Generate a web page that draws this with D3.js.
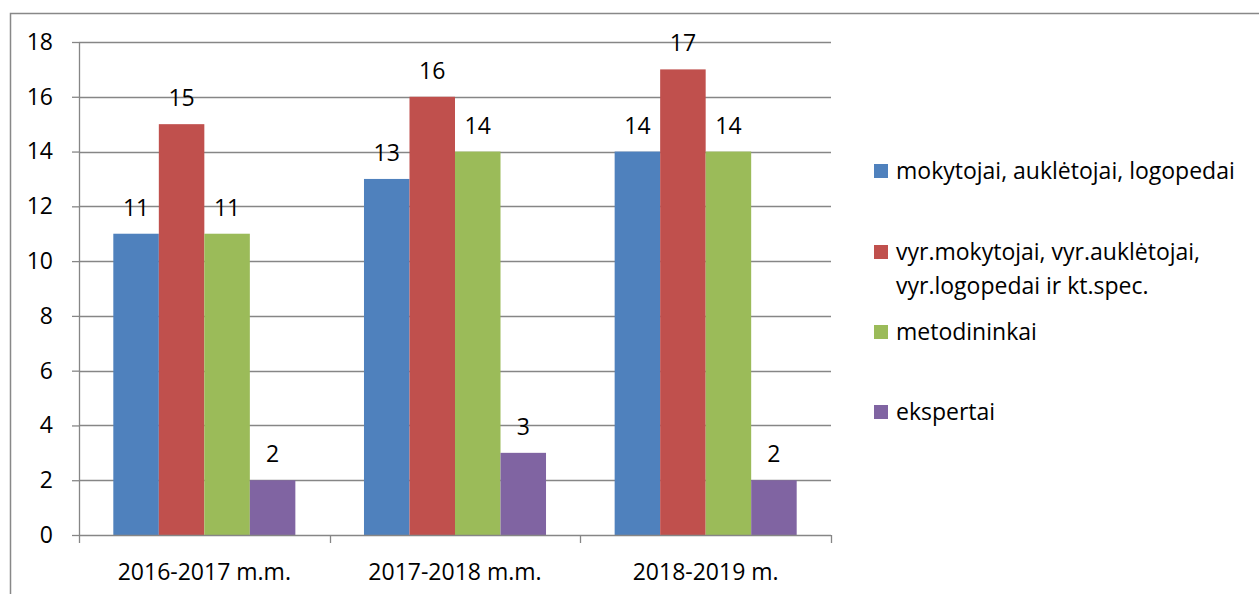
<!DOCTYPE html>
<html>
<head>
<meta charset="utf-8">
<script src="https://cdn.jsdelivr.net/npm/d3@7"></script>
<style>
  body { margin: 0; background: #fff; }
  text { font-family: "Open Sans", Lato, sans-serif; fill: #000; }
</style>
</head>
<body>
<div class="canvas"></div>
<script>
// Data
const categories = ['2016-2017 m.m.', '2017-2018 m.m.', '2018-2019 m.']
const seriesNames = [
    'mokytojai, auklėtojai, logopedai',
    'vyr.mokytojai, vyr.auklėtojai, vyr.logopedai ir kt.spec.',
    'metodininkai',
    'ekspertai'
]
const mokytojai = [11, 13, 14]
const vyrMokytojai = [15, 16, 17]
const metodininkai = [11, 14, 14]
const ekspertai = [2, 3, 2]
const yTicks = [0, 2, 4, 6, 8, 10, 12, 14, 16, 18]

const seriesValues = [mokytojai, vyrMokytojai, metodininkai, ekspertai]
const colors = ['#4F81BD', '#C0504D', '#9BBB59', '#8064A2']

const wWidth = 1259
const wHeight = 594
const fontSize = '23px'

const svg = d3.select('.canvas')
    .append('svg')
    .attr('width', wWidth)
    .attr('height', wHeight)

// outer frame
svg.append('rect')
    .attr('x', 10.5).attr('y', 13.5)
    .attr('width', 1270).attr('height', 620)
    .attr('fill', 'none')
    .attr('stroke', '#888')
    .attr('stroke-width', 1.5)

const margin = {top: 42, left: 79}
const graphWidth = 752
const graphHeight = 493

const graph = svg.append('g')
    .attr('transform', `translate(${margin.left}, ${margin.top})`)

const yScale = d3.scaleLinear()
    .domain([0, 18])
    .range([graphHeight, 0])

const xScale = d3.scaleBand()
    .domain(categories)
    .range([0, graphWidth])

const innerScale = d3.scaleBand()
    .domain(d3.range(seriesNames.length))
    .range([0, xScale.bandwidth()])
    .paddingInner(0)
    .paddingOuter(0.754)

// gridlines
graph.append('g')
    .selectAll('line')
    .data(yTicks.filter(d => d > 0))
    .enter()
    .append('line')
    .attr('x1', 0).attr('x2', graphWidth)
    .attr('y1', d => Math.round(yScale(d)) + 0.5)
    .attr('y2', d => Math.round(yScale(d)) + 0.5)
    .attr('stroke', '#868686')
    .attr('stroke-width', 1.3)

// bars
const groups = graph.selectAll('g.series')
    .data(seriesValues)
    .enter()
    .append('g')
    .attr('class', 'series')

groups.each(function(vals, si) {
    const g = d3.select(this)
    g.selectAll('rect')
        .data(vals)
        .enter()
        .append('rect')
        .attr('x', (d, i) => xScale(categories[i]) + innerScale(si))
        .attr('y', d => yScale(d))
        .attr('width', innerScale.bandwidth())
        .attr('height', d => graphHeight - yScale(d))
        .attr('fill', colors[si])
    g.selectAll('text')
        .data(vals)
        .enter()
        .append('text')
        .attr('x', (d, i) => xScale(categories[i]) + innerScale(si) + innerScale.bandwidth() / 2)
        .attr('y', d => yScale(d) - 18)
        .attr('text-anchor', 'middle')
        .style('font-size', fontSize)
        .text(d => d)
})

// y axis
const yAxis = d3.axisLeft(yScale)
    .tickValues(yTicks)
    .tickSize(7)
    .tickPadding(19)
const yAxisGroup = graph.append('g').call(yAxis)
yAxisGroup.select('.domain').attr('stroke', '#868686').attr('stroke-width', 1.3)
    .attr('d', `M0.5,0V${graphHeight}`)
yAxisGroup.selectAll('.tick line').attr('stroke', '#868686').attr('stroke-width', 1.3)
yAxisGroup.selectAll('.tick text').style('font-size', fontSize).attr('fill', '#000')

// x axis
const xAxisGroup = graph.append('g')
    .attr('transform', `translate(0, ${graphHeight})`)
xAxisGroup.append('line')
    .attr('x1', 0).attr('x2', graphWidth)
    .attr('y1', 0.5).attr('y2', 0.5)
    .attr('stroke', '#868686').attr('stroke-width', 1.3)
xAxisGroup.selectAll('line.tk')
    .data([0, 1, 2, 3])
    .enter()
    .append('line')
    .attr('class', 'tk')
    .attr('x1', d => Math.round(d * xScale.step()) + 0.5)
    .attr('x2', d => Math.round(d * xScale.step()) + 0.5)
    .attr('y1', 0).attr('y2', 8)
    .attr('stroke', '#868686').attr('stroke-width', 1.3)
xAxisGroup.selectAll('text')
    .data(categories)
    .enter()
    .append('text')
    .attr('x', d => xScale(d) + xScale.bandwidth() / 2)
    .attr('y', 45)
    .attr('text-anchor', 'middle')
    .style('font-size', fontSize)
    .text(d => d)

// legend
const legendRows = [
    {lines: ['mokytojai, auklėtojai, logopedai'], y: 171},
    {lines: ['vyr.mokytojai, vyr.auklėtojai,', 'vyr.logopedai ir kt.spec.'], y: 252},
    {lines: ['metodininkai'], y: 332},
    {lines: ['ekspertai'], y: 412}
]
const legend = svg.append('g')
const items = legend.selectAll('g')
    .data(legendRows)
    .enter()
    .append('g')
items.append('rect')
    .attr('x', 874)
    .attr('y', d => d.y - 7)
    .attr('width', 14).attr('height', 14)
    .attr('fill', (d, i) => colors[i])
items.each(function(d) {
    const t = d3.select(this).append('text')
        .attr('x', 896)
        .attr('y', d.y + 8)
        .style('font-size', fontSize)
    d.lines.forEach((l, k) => {
        t.append('tspan').attr('x', 896).attr('dy', k === 0 ? 0 : 34).text(l)
    })
})
</script>
</body>
</html>
